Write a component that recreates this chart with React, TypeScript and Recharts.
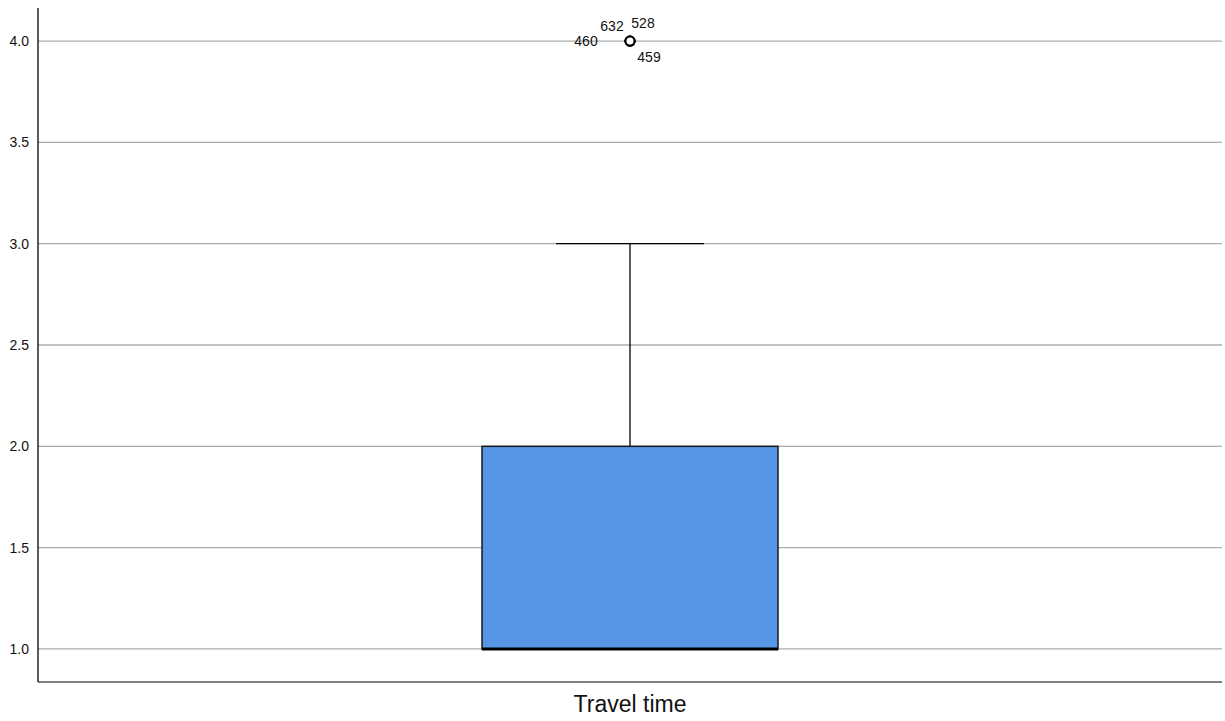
import {
  ComposedChart,
  Bar,
  Scatter,
  XAxis,
  YAxis,
  CartesianGrid,
} from "recharts";

const categories = ["Travel time"];
const minValues = [1];
const q1Values = [1];
const medianValues = [1];
const q3Values = [2];
const maxValues = [3];

const outlierIds = ["460", "632", "528", "459"];
const outlierValues = [4, 4, 4, 4];

const yTicks = [1.0, 1.5, 2.0, 2.5, 3.0, 3.5, 4.0];

const BOX_FILL = "#5596e5";
const FONT = "'Liberation Sans', Arial, sans-serif";

// label offsets around the outlier marker
const LABEL_OFFSETS: Record<string, [number, number]> = {
  "460": [-44, 0],
  "632": [-18, -15],
  "528": [13, -18],
  "459": [19, 16],
};

const data = categories.map((name, i) => ({
  name,
  lower: [minValues[i], q1Values[i]],
  box: [q1Values[i], q3Values[i]],
  upper: [q3Values[i], maxValues[i]],
  median: [medianValues[i], medianValues[i]],
}));

const outliers = outlierIds.map((id, i) => ({
  name: categories[0],
  value: outlierValues[i],
  id,
}));

// whisker: stem over the range, cap at the far end
const makeWhisker = (capAtTop: boolean) => (props: any) => {
  const { x, y, width, height } = props;
  const cx = x + width / 2;
  const capHalf = width / 4;
  const capY = capAtTop ? y : y + height;
  return (
    <g>
      <line x1={cx} y1={y} x2={cx} y2={y + height} stroke="#000" strokeWidth={1.3} />
      <line x1={cx - capHalf} y1={capY} x2={cx + capHalf} y2={capY} stroke="#000" strokeWidth={1.3} />
    </g>
  );
};

const BoxShape = (props: any) => {
  const { x, y, width, height } = props;
  return (
    <rect x={x} y={y} width={width} height={height} fill={BOX_FILL} stroke="#1a1a1a" strokeWidth={1.5} />
  );
};

const MedianShape = (props: any) => {
  const { x, y, width } = props;
  return <line x1={x} y1={y} x2={x + width} y2={y} stroke="#000" strokeWidth={3} />;
};

const OutlierShape = (props: any) => {
  const { cx, cy, payload } = props;
  const [dx, dy] = LABEL_OFFSETS[payload.id] || [0, 0];
  return (
    <g>
      <circle cx={cx} cy={cy} r={4.5} fill="#fff" stroke="#000" strokeWidth={2} />
      <text
        x={cx + dx}
        y={cy + dy}
        textAnchor="middle"
        dominantBaseline="central"
        fontSize={14}
        fontFamily={FONT}
        fill="#111"
      >
        {payload.id}
      </text>
    </g>
  );
};

export default function App() {
  return (
    <div style={{ position: "absolute", left: 0, top: 0, background: "#fff" }}>
      <ComposedChart
        width={1225}
        height={721}
        data={data}
        margin={{ top: 8, right: 3, left: 0, bottom: 0 }}
        barGap={-296}
      >
        <CartesianGrid
          vertical={false}
          horizontalValues={yTicks}
          stroke="#ababab"
          strokeWidth={1.3}
        />
        <XAxis
          dataKey="name"
          type="category"
          allowDuplicatedCategory={false}
          height={39}
          axisLine={{ stroke: "#555", strokeWidth: 1.3 }}
          tickLine={false}
          tick={{ fontSize: 23, fill: "#111", fontFamily: FONT }}
          tickMargin={8}
        />
        <YAxis
          type="number"
          domain={[0.837, 4.163]}
          ticks={yTicks}
          allowDataOverflow
          width={38}
          axisLine={{ stroke: "#000", strokeWidth: 1.3 }}
          tickLine={false}
          tickSize={0}
          tickMargin={9}
          tickFormatter={(v: number) => v.toFixed(1)}
          tick={{ fontSize: 14, fill: "#111", fontFamily: FONT }}
        />
        <Bar dataKey="upper" barSize={296} shape={makeWhisker(true)} isAnimationActive={false} />
        <Bar dataKey="lower" barSize={296} shape={makeWhisker(false)} isAnimationActive={false} />
        <Bar dataKey="box" barSize={296} shape={<BoxShape />} isAnimationActive={false} />
        <Bar dataKey="median" barSize={296} shape={<MedianShape />} isAnimationActive={false} />
        <Scatter
          data={outliers}
          dataKey="value"
          shape={<OutlierShape />}
          isAnimationActive={false}
        />
      </ComposedChart>
    </div>
  );
}
